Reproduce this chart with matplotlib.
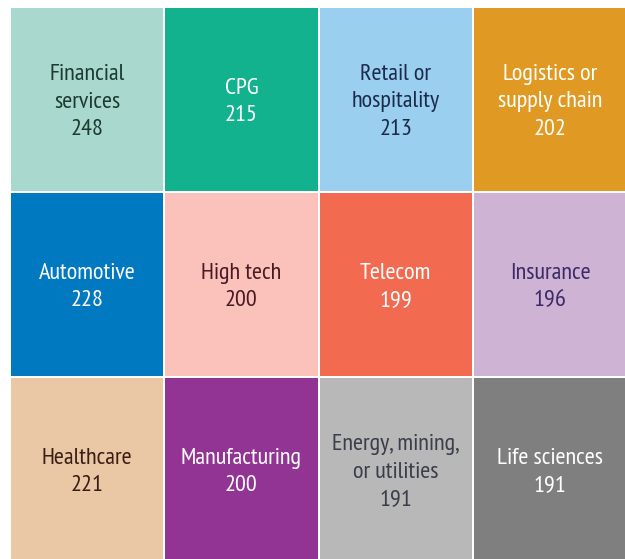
import matplotlib
matplotlib.use("Agg")
import matplotlib.pyplot as plt
from matplotlib.patches import Rectangle
from matplotlib.transforms import offset_copy

# ---- data ----
categories = ["Financial\nservices", "CPG", "Retail or\nhospitality", "Logistics or\nsupply chain",
              "Automotive", "High tech", "Telecom", "Insurance",
              "Healthcare", "Manufacturing", "Energy, mining,\nor utilities", "Life sciences"]
counts = [248, 215, 213, 202, 228, 200, 199, 196, 221, 200, 191, 191]
tile_colors = ["#A9D8CF", "#12B28E", "#9ACFEF", "#E09A24",
               "#0079C1", "#FAC2BA", "#F26A50", "#CFB3D5",
               "#EAC8A6", "#923493", "#B8B8B8", "#7F7F7F"]
text_colors = ["#1D3A2E", "white", "#1C2A4A", "white",
               "white", "#4A1A24", "white", "#3A2A66",
               "#3A1E14", "white", "#3A3D4A", "white"]
n_cols = 4
n_rows = 3

W, H = 625, 559
fig = plt.figure(figsize=(W / 100, H / 100), dpi=100)
fig.patch.set_facecolor("white")
pitch_x, pitch_y = 154.3, 185.0
left, top = 11, 8
ax = fig.add_axes([left / W, 1 - (top + n_rows * pitch_y) / H,
                   n_cols * pitch_x / W, n_rows * pitch_y / H])
ax.set_xlim(0, n_cols)
ax.set_ylim(n_rows, 0)
ax.axis("off")

gx = 2 / pitch_x
gy = 2 / pitch_y
fam = ["PT Sans Narrow", "DejaVu Sans"]
text_tr = offset_copy(ax.transData, fig=fig, x=0, y=-2.5, units="dots")
for i, (cat, val) in enumerate(zip(categories, counts)):
    c, r = i % n_cols, i // n_cols
    ax.add_patch(Rectangle((c, r), 1 - gx, 1 - gy, facecolor=tile_colors[i],
                           edgecolor="none", clip_on=False))
    ax.text(c + (1 - gx) / 2, r + (1 - gy) / 2, f"{cat}\n{val}", ha="center", va="center",
            color=text_colors[i], fontsize=17.5, family=fam, linespacing=1.42,
            multialignment="center", clip_on=False, transform=text_tr)

fig.savefig("out.png", dpi=100, facecolor="white")
